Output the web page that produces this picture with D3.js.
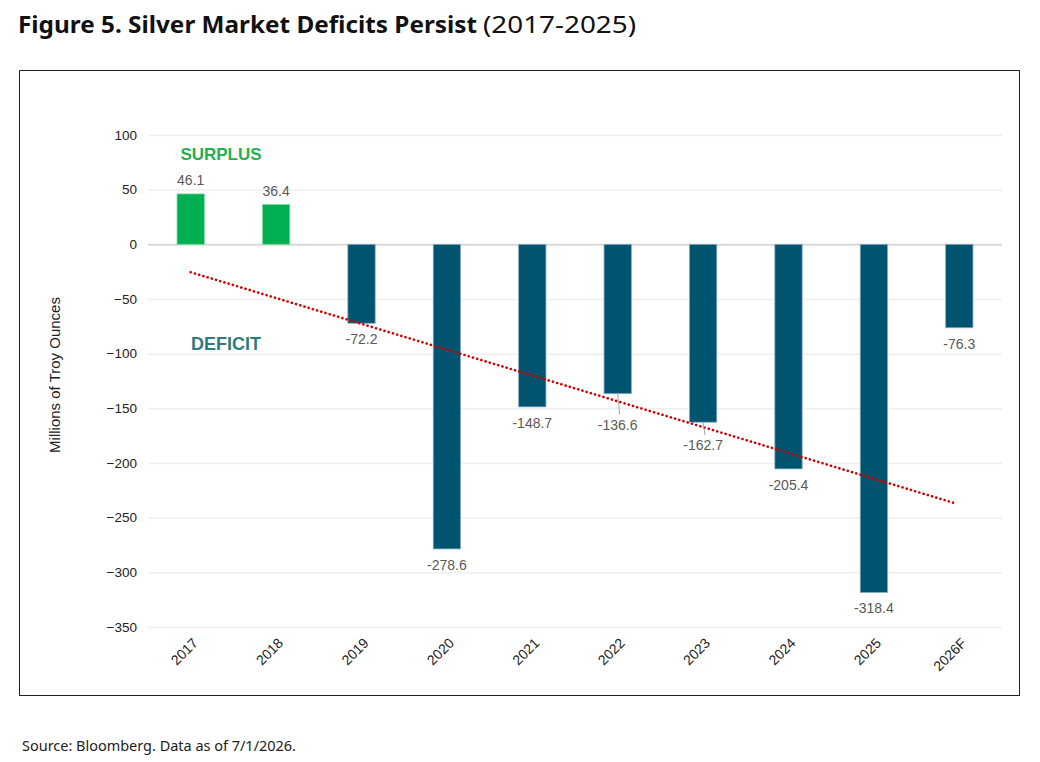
<!DOCTYPE html>
<html lang="en">
  <head>
    <meta charset="utf-8" />
    <title>Silver Market Deficits</title>
    <style>
      body { margin: 0; background: #fff; }
    </style>
  </head>
  <body>
    <svg id="viz"></svg>
    <script src="https://cdn.jsdelivr.net/npm/d3@7"></script>
    <script>
        var categories = ["2017", "2018", "2019", "2020", "2021", "2022", "2023", "2024", "2025", "2026F"];
        var balance = [46.1, 36.4, -72.2, -278.6, -148.7, -136.6, -162.7, -205.4, -318.4, -76.3];
        var yTicks = [100, 50, 0, -50, -100, -150, -200, -250, -300, -350];
        // trend line end points (2017 -> 2026F)
        var trendCats = ["2017", "2026F"];
        var trendVals = [-25.5, -237.8];

        var width = 1040, height = 762;
        var svg = d3.select("#viz").attr("width", width).attr("height", height)
            .style("font-family", "'Liberation Sans', Arial, sans-serif");

        // title
        svg.append("text").attr("x", 18).attr("y", 33)
            .style("font-family", "'Noto Sans', sans-serif")
            .style("font-size", "24px").style("font-weight", "bold").attr("fill", "#111")
            .attr("textLength", 459).attr("lengthAdjust", "spacingAndGlyphs")
            .text("Figure 5. Silver Market Deficits Persist");
        svg.append("text").attr("x", 483).attr("y", 33)
            .style("font-family", "'Noto Sans', sans-serif")
            .style("font-size", "24px").attr("fill", "#111")
            .attr("textLength", 153).attr("lengthAdjust", "spacingAndGlyphs")
            .text("(2017-2025)");

        // frame
        svg.append("rect").attr("x", 19.5).attr("y", 70.5).attr("width", 1000).attr("height", 625)
            .attr("fill", "none").attr("stroke", "#222").attr("stroke-width", 1);

        var x = d3.scaleBand().domain(categories).range([148, 1002])
            .paddingInner(0.68).paddingOuter(0.34);
        var y = d3.scaleLinear().domain([-350, 100]).range([627, 135]);

        // gridlines
        svg.append("g").selectAll("line").data(yTicks).enter().append("line")
            .attr("x1", 148).attr("x2", 1002)
            .attr("y1", function(d) { return y(d) + 0.5; })
            .attr("y2", function(d) { return y(d) + 0.5; })
            .attr("stroke", function(d) { return d === 0 ? "#d9d9d9" : "#efefef"; })
            .attr("stroke-width", function(d) { return d === 0 ? 2 : 1.5; });

        // y axis labels
        var yAxis = d3.axisLeft(y).tickValues(yTicks).tickSize(0).tickPadding(0);
        var ya = svg.append("g").attr("transform", "translate(137,0)").call(yAxis);
        ya.select(".domain").remove();
        ya.selectAll("text").style("font-family", "'Liberation Sans', Arial, sans-serif")
            .style("font-size", "13.5px").attr("fill", "#222");

        svg.append("text").attr("transform", "translate(60,375) rotate(-90)")
            .attr("text-anchor", "middle").style("font-size", "15px").attr("fill", "#222")
            .text("Millions of Troy Ounces");

        // x axis labels
        var xAxis = d3.axisBottom(x).tickSize(0).tickPadding(0);
        var xa = svg.append("g").attr("transform", "translate(0,628)").call(xAxis);
        xa.select(".domain").remove();
        xa.selectAll("text")
            .style("font-family", "'Liberation Sans', Arial, sans-serif")
            .style("font-size", "14px").attr("fill", "#222")
            .attr("text-anchor", "end").attr("dy", null).attr("y", 0)
            .attr("transform", "translate(8,16) rotate(-45)");

        // bars
        svg.append("g").selectAll("rect").data(balance).enter().append("rect")
            .attr("x", function(d, i) { return x(categories[i]); })
            .attr("width", x.bandwidth())
            .attr("y", function(d) { return y(Math.max(0, d)); })
            .attr("height", function(d) { return Math.abs(y(d) - y(0)); })
            .attr("fill", function(d) { return d >= 0 ? "#00b050" : "#00546f"; })
            .attr("stroke", function(d) { return d >= 0 ? "#7fd8a4" : "#86aebd"; })
            .attr("stroke-width", 0.8);

        // trend line
        svg.append("line")
            .attr("x1", x(trendCats[0]) + x.bandwidth() / 2).attr("y1", y(trendVals[0]))
            .attr("x2", x(trendCats[1]) + x.bandwidth() / 2 - 4).attr("y2", y(trendVals[1]) - 1)
            .attr("stroke", "#d40000").attr("stroke-width", 2.6)
            .attr("stroke-dasharray", "0.1,4.3").attr("stroke-linecap", "round");

        // data labels; two are pushed down with a leader line
        var extraDrop = { "2022": 15, "2023": 7 };
        var lab = svg.append("g");
        balance.forEach(function(d, i) {
            var c = categories[i];
            var cx = x(c) + x.bandwidth() / 2;
            var drop = extraDrop[c] || 0;
            var ly = d >= 0 ? y(d) - 9 : y(d) + 21 + drop;
            if (drop) {
                lab.append("line").attr("x1", cx).attr("y1", y(d))
                    .attr("x2", cx + 2).attr("y2", y(d) + drop + 6)
                    .attr("stroke", "#a6a6a6").attr("stroke-width", 1);
            }
            lab.append("text").attr("x", cx).attr("y", ly)
                .attr("text-anchor", "middle").style("font-size", "14px").attr("fill", "#595959")
                .text(d.toFixed(1));
        });

        svg.append("text").attr("x", 221).attr("y", 160).attr("text-anchor", "middle")
            .style("font-size", "17px").style("font-weight", "bold").attr("fill", "#1fb04f")
            .text("SURPLUS");
        svg.append("text").attr("x", 226).attr("y", 350).attr("text-anchor", "middle")
            .style("font-size", "18px").style("font-weight", "bold").attr("fill", "#2e7b7b")
            .text("DEFICIT");

        svg.append("text").attr("x", 22).attr("y", 751)
            .style("font-family", "'Noto Sans', sans-serif").style("font-size", "13.5px").attr("fill", "#222")
            .attr("textLength", 274).attr("lengthAdjust", "spacingAndGlyphs")
            .text("Source: Bloomberg. Data as of 7/1/2026.");
    </script>
  </body>
</html>
